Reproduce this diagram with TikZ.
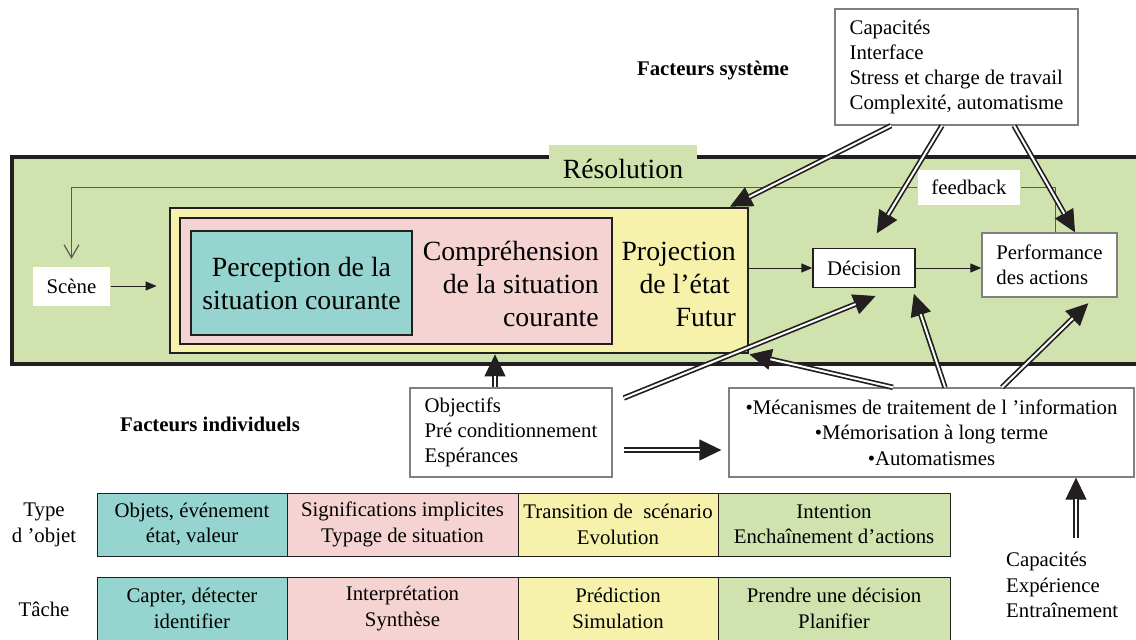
\documentclass[tikz,border=0pt]{standalone}
\usepackage{fontspec}
\setmainfont{Liberation Serif}
\usetikzlibrary{arrows.meta}

\definecolor{resgreen}{RGB}{208,227,174}
\definecolor{projyellow}{RGB}{246,241,171}
\definecolor{comppink}{RGB}{246,211,211}
\definecolor{percteal}{RGB}{149,212,207}
\definecolor{darkline}{RGB}{35,31,32}
\definecolor{boxgrey}{RGB}{128,128,128}
\definecolor{fbgrey}{RGB}{90,90,90}

\newcommand{\diagtext}{\fontsize{20.8}{25.3}\selectfont}
\newcommand{\diagbig}{\fontsize{27.8}{33}\selectfont}

\begin{document}
\begin{tikzpicture}[x=1pt,y=-1pt,
  box/.style={draw=boxgrey,line width=1.3pt,fill=white,font=\diagtext,inner sep=0pt},
  level box/.style={draw=darkline,line width=2.8pt,inner sep=0pt},
  cell/.style={draw=darkline,line width=1pt,minimum height=63pt,inner sep=0pt,align=center,font=\diagtext},
  arr/.style={-{Triangle[length=11pt,width=9pt]},line width=1pt,darkline},
  big tip/.style={-{Triangle[length=22pt,width=21pt]},line width=1pt,darkline,shorten >=#1},
  big tip/.default=0pt,
  dbl line/.style={double,double distance=2pt,line width=1.7pt,darkline,shorten >=#1},
  dbl line/.default=21.5pt]

  \useasboundingbox (0,0) rectangle (1136,640);

  % Resolution frame
  \fill[resgreen] (12,157) rectangle (1136,364);
  \draw[line width=4.5pt,darkline] (1140,157) -- (12,157) -- (12,364) -- (1140,364);
  \fill[resgreen] (549,145) rectangle (697,160);
  \node[font=\diagbig] (res) at (623,169) {Résolution};

  % three levels
  \node[level box,fill=projyellow,minimum width=578pt,minimum height=145pt] (proj) at (459,280.5) {};
  \node[level box,fill=comppink,minimum width=432pt,minimum height=126pt] (comp) at (396,281) {};
  \node[level box,fill=percteal,minimum width=221pt,minimum height=104pt,align=center,font=\diagbig] (perc) at (301.5,283)
    {Perception de la\\situation courante};
  \node[anchor=east,align=right,font=\diagbig,inner sep=0pt] (comptext) at (599,284)
    {Compréhension\\de la situation\\courante};
  \node[anchor=east,align=right,font=\diagbig,inner sep=0pt] (projtext) at (736,284)
    {Projection\\de l’état\kern6pt\\Futur};

  % system factors
  \node[box,align=left,minimum width=243pt,minimum height=116pt] (sys) at (956.5,67)
    {Capacités\\Interface\\Stress et charge de travail\\Complexité, automatisme};
  \node[font=\diagtext\bfseries] (facsys) at (713,71) {Facteurs système};

  \node[box,draw=darkline,minimum width=102pt,minimum height=39pt] (dec) at (864,268) {Décision};
  \node[box,align=left,minimum width=135pt,minimum height=64pt] (perf) at (1049.5,265) {Performance\\des actions};
  \node[box,draw=none,minimum width=77pt,minimum height=39pt] (scene) at (71.5,286) {Scène};
  \node[box,draw=none,minimum width=102pt,minimum height=35pt] (fb) at (969,187.5) {feedback};

  % feedback loop
  \draw[fbgrey,line width=1.2pt] ([xshift=74pt]perf.north west) |- (fb.east);
  \draw[fbgrey,line width=1.2pt,-{Straight Barb[length=13pt,width=15pt]},shorten >=7pt] (fb.west) -| (scene.north);

  % individual factors
  \node[box,align=left,minimum width=202pt,minimum height=89pt] (obj) at (511,432.5)
    {Objectifs\\Pré conditionnement\\Espérances};
  \node[box,align=center,minimum width=405pt,minimum height=89pt] (meca) at (931.5,432.5)
    {•Mécanismes de traitement de l ’information\\•Mémorisation à long terme\\•Automatismes};
  \node[align=left,font=\diagtext,inner xsep=0pt,inner ysep=14pt,anchor=west] (cap) at (1006,585)
    {Capacités\\Expérience\\Entraînement};
  \node[font=\diagtext\bfseries] (facind) at (210,424) {Facteurs individuels};

  % thin arrows
  \draw[arr,shorten >=12pt] (scene.east) -- (scene.east -| proj.west);
  \draw[arr] (proj.east |- dec.west) -- (dec.west);
  \draw[arr] (dec.east) -- (dec.east -| perf.west);

  % double arrows
  \path (sys.south -| 891,0) edge[big tip] (proj.north -| 730,0)
                             edge[dbl line] (proj.north -| 730,0)
        (sys.south -| 942,0) edge[big tip=17pt] (dec.north -| 868,0)
                             edge[dbl line=38.5pt] (dec.north -| 868,0)
        (sys.south -| 1014,0) edge[big tip] (perf.north -| 1075,0)
                              edge[dbl line] (perf.north -| 1075,0)
        (obj.east |- 0,402.5) edge[big tip=21pt,shorten <=12pt] (dec.south -| 895,0)
                              edge[dbl line=42.5pt,shorten <=12pt] (dec.south -| 895,0)
        (obj.east |- 0,450) edge[big tip=7pt,shorten <=11pt] (meca.west |- 0,450)
                            edge[dbl line=28.5pt,shorten <=11pt] (meca.west |- 0,450)
        (obj.north -| 495,0) edge[big tip] (proj.south -| 495,0)
                             edge[dbl line] (proj.south -| 495,0)
        (meca.north -| 893,0) edge[big tip] (proj.south east)
                              edge[dbl line] (proj.south east)
        (meca.north -| 945,0) edge[big tip=6pt] (dec.south -| 912,0)
                              edge[dbl line=27.5pt] (dec.south -| 912,0)
        (meca.north -| 1002,0) edge[big tip=8pt] (perf.south -| 1094,0)
                               edge[dbl line=29.5pt] (perf.south -| 1094,0)
        (cap.north -| 1076,0) edge[big tip] (meca.south -| 1076,0)
                              edge[dbl line] (meca.south -| 1076,0);

  % object types and tasks
  \node[cell,fill=percteal,minimum width=190pt] (type1) at (192,524.5) {Objets, événement\\état, valeur};
  \node[cell,fill=comppink,minimum width=231pt] (type2) at (402.5,524.5) {Significations implicites\\Typage de situation};
  \node[cell,fill=projyellow,minimum width=200pt] (type3) at (618,524.5) {Transition de~ scénario\\Evolution};
  \node[cell,fill=resgreen,minimum width=232pt] (type4) at (834,524.5) {Intention\\Enchaînement d’actions};
  \node[cell,fill=percteal,minimum width=190pt] (task1) at (192,608.5) {Capter, détecter\\identifier};
  \node[cell,fill=comppink,minimum width=231pt] (task2) at (402.5,608.5) {Interprétation\\Synthèse};
  \node[cell,fill=projyellow,minimum width=200pt] (task3) at (618,608.5) {Prédiction\\Simulation};
  \node[cell,fill=resgreen,minimum width=232pt] (task4) at (834,608.5) {Prendre une décision\\Planifier};
  \node[align=center,font=\diagtext] (typelab) at (44,525) {Type\\d ’objet};
  \node[font=\diagtext] (tasklab) at (44,609) {Tâche};

\end{tikzpicture}
\end{document}
